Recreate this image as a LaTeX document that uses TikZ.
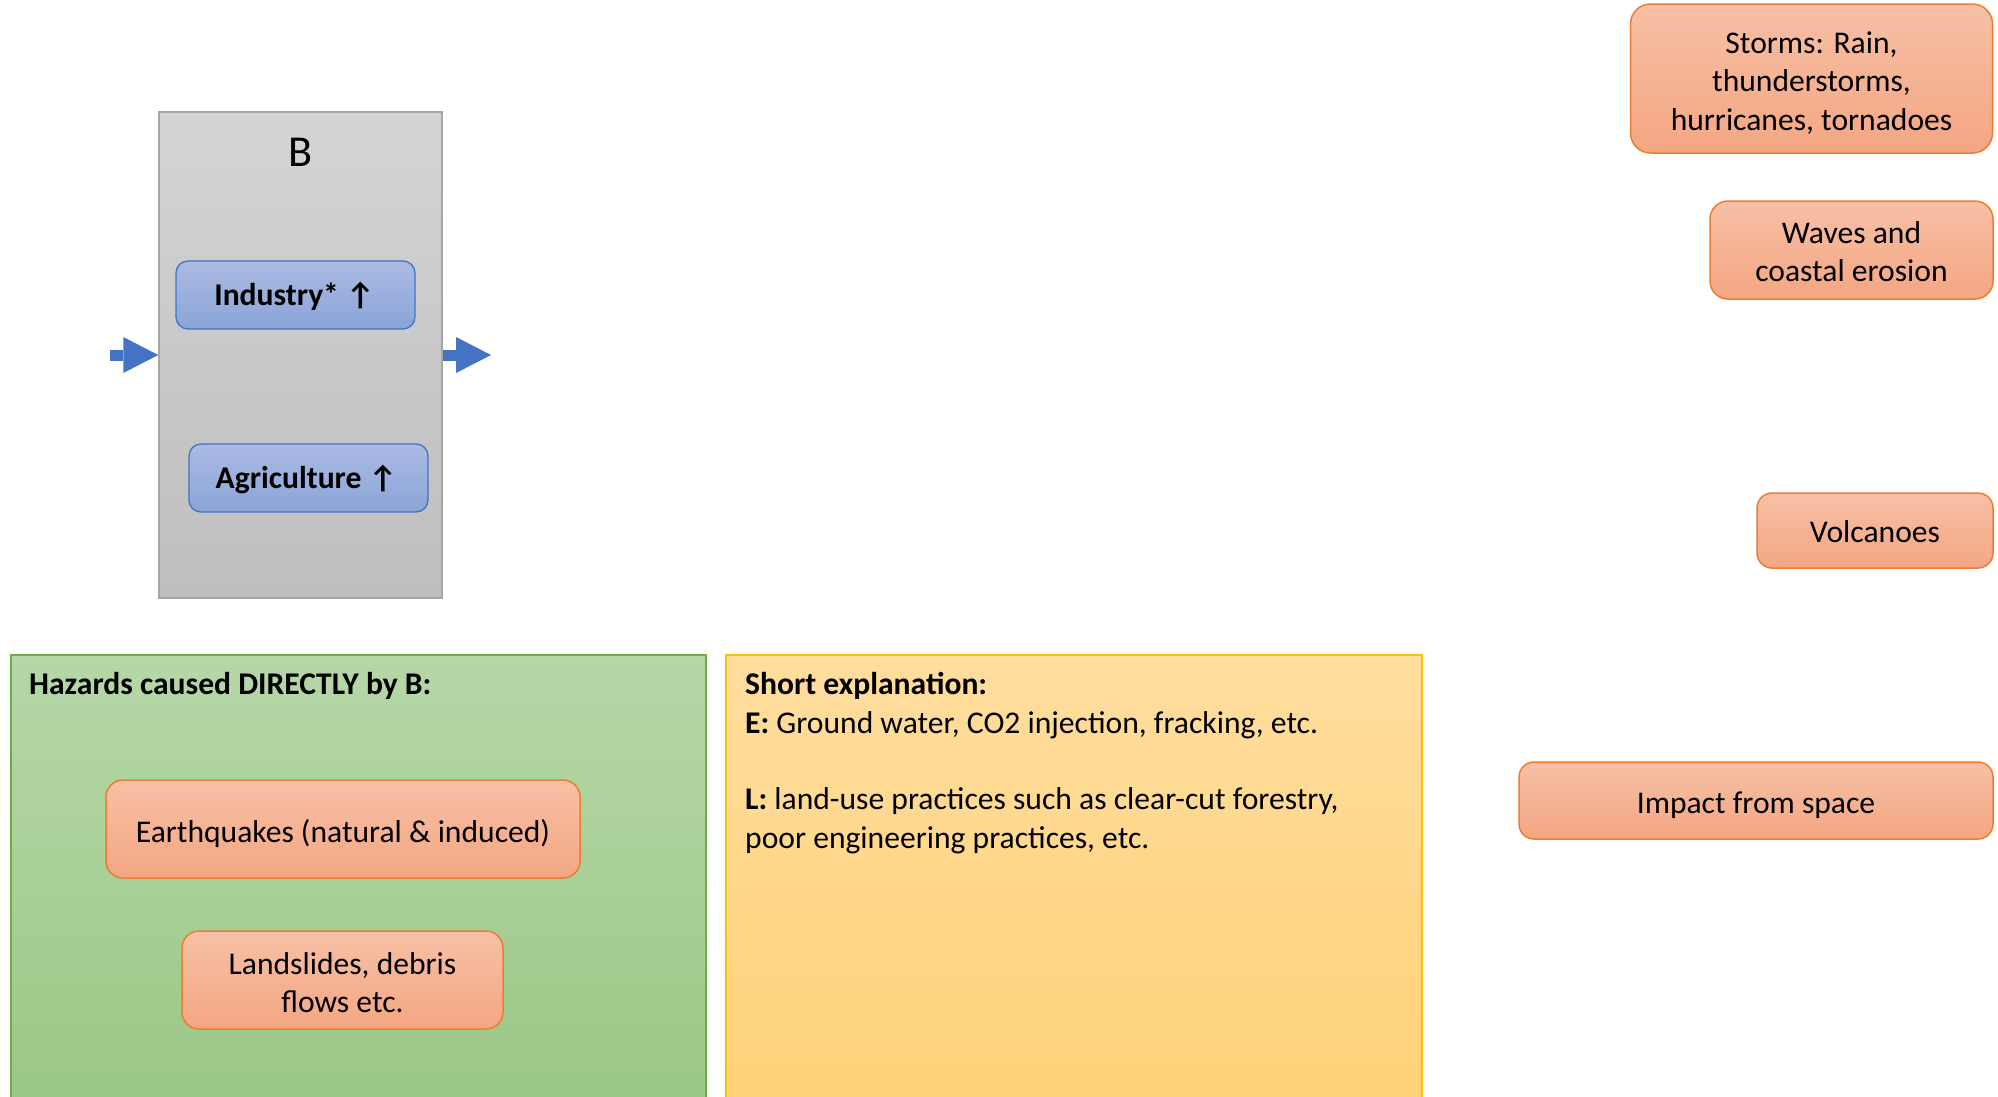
\documentclass[tikz,border=0pt]{standalone}
\usepackage{fontspec}
\setmainfont{Carlito}
\usetikzlibrary{arrows.meta}
\definecolor{orTop}{HTML}{F7C0A6}
\definecolor{orBot}{HTML}{F4A682}
\definecolor{orLine}{HTML}{ED7D31}
\definecolor{blTop}{HTML}{ABBBE3}
\definecolor{blBot}{HTML}{8AA4D8}
\definecolor{blLine}{HTML}{4472C4}
\definecolor{grTop}{HTML}{D4D4D4}
\definecolor{grBot}{HTML}{BEBEBE}
\definecolor{grLine}{HTML}{A6A6A6}
\definecolor{gnTop}{HTML}{B6D7A8}
\definecolor{gnBot}{HTML}{9AC784}
\definecolor{gnLine}{HTML}{70AD47}
\definecolor{ylTop}{HTML}{FFDD9E}
\definecolor{ylBot}{HTML}{FFD277}
\definecolor{ylLine}{HTML}{FFC000}
\tikzset{
  basefont/.style={font=\fontsize{31.6}{38.5}\selectfont},
  hazard/.style={draw=orLine, line width=1.5pt, top color=orTop, bottom color=orBot,
    rounded corners=#1, inner sep=0pt},
  htext/.style={align=center, basefont, inner sep=0pt},
  sector/.style={draw=blLine, line width=1.3pt, top color=blTop, bottom color=blBot,
    rounded corners=12pt, inner sep=0pt, minimum width=239pt, minimum height=68pt},
  stext/.style={inner sep=0pt, anchor=base, font=\fontsize{31.6}{38.5}\selectfont\bfseries},
  panel/.style={draw=#1Line, line width=1.5pt, top color=#1Top, bottom color=#1Bot, inner sep=0pt},
  ptext/.style={basefont, anchor=base west, inner sep=0pt},
  flow/.style={draw=blLine, line width=11pt, -{Triangle[length=35pt, width=36pt, line width=0pt]}}
}
\begin{document}
\begin{tikzpicture}[x=1pt, y=-1pt]
\useasboundingbox (0,0) rectangle (1998,1096);
% B system box
\node[panel=gr, minimum width=283pt, minimum height=486pt] (bbox) at (300.5,355) {};
\node[font=\fontsize{44.2}{50}\selectfont, anchor=base, inner sep=0pt] (btitle) at (301,166) {B};
\node[sector] (industry) at (295.5,295) {};
\node[stext] (industry-t) at (294.5,305) {Industry* ↑};
\node[sector] (agri) at (308.5,478) {};
\node[stext] (agri-t) at (306.5,488) {Agriculture ↑};
\coordinate (inL) at (110,355);
\coordinate (outR) at (491,355);
\draw[flow] (inL) -- (bbox.west);
\draw[flow] (bbox.east) -- (outR);
% natural hazards on the right
\node[hazard=20pt, minimum width=362pt, minimum height=149pt] (storms) at (1811.5,78.5) {};
\node[htext] (storms-t) at ([yshift=-4.5pt]storms.center)
  {Storms: Rain,\\thunderstorms,\\hurricanes, tornadoes};
\node[hazard=18pt, minimum width=283pt, minimum height=98pt] (waves) at (1851.5,250) {};
\node[htext] (waves-t) at ([yshift=-1.5pt]waves.center) {Waves and\\coastal erosion};
\node[hazard=15pt, minimum width=236pt, minimum height=75pt] (volc) at (1875,530.5) {};
\node[htext] (volc-t) at ([yshift=-1.5pt]volc.center) {Volcanoes};
\node[hazard=15pt, minimum width=474pt, minimum height=77pt] (impact) at (1756,800.5) {};
\node[htext] (impact-t) at ([yshift=-5pt]impact.center) {Impact from space};
% green panel
\node[panel=gn, minimum width=695pt, minimum height=470pt, anchor=north west] (green) at (10,654) {};
\node[ptext, font=\fontsize{31.6}{38.5}\selectfont\bfseries] (gtitle) at (29,694) {Hazards caused DIRECTLY by B:};
\node[hazard=17pt, minimum width=474pt, minimum height=98pt] (quake) at (343,829) {};
\node[htext] (quake-t) at ([yshift=-4pt]quake.center) {Earthquakes (natural \& induced)};
\node[hazard=17pt, minimum width=321pt, minimum height=98pt] (slide) at (342.5,980) {};
\node[htext] (slide-t) at ([yshift=-2.5pt]slide.center) {Landslides, debris\\flows etc.};
% yellow panel
\node[panel=yl, minimum width=696pt, minimum height=470pt, anchor=north west] (yellow) at (725,654) {};
\node[ptext] (y1) at (745,694) {\textbf{Short explanation:}};
\node[ptext] (y2) at (745,733) {\textbf{E:} Ground water, CO2 injection, fracking, etc.};
\node[ptext] (y3) at (745,809.5) {\textbf{L:} land-use practices such as clear-cut forestry,};
\node[ptext] (y4) at (745,848) {poor engineering practices, etc.};
\end{tikzpicture}
\end{document}
